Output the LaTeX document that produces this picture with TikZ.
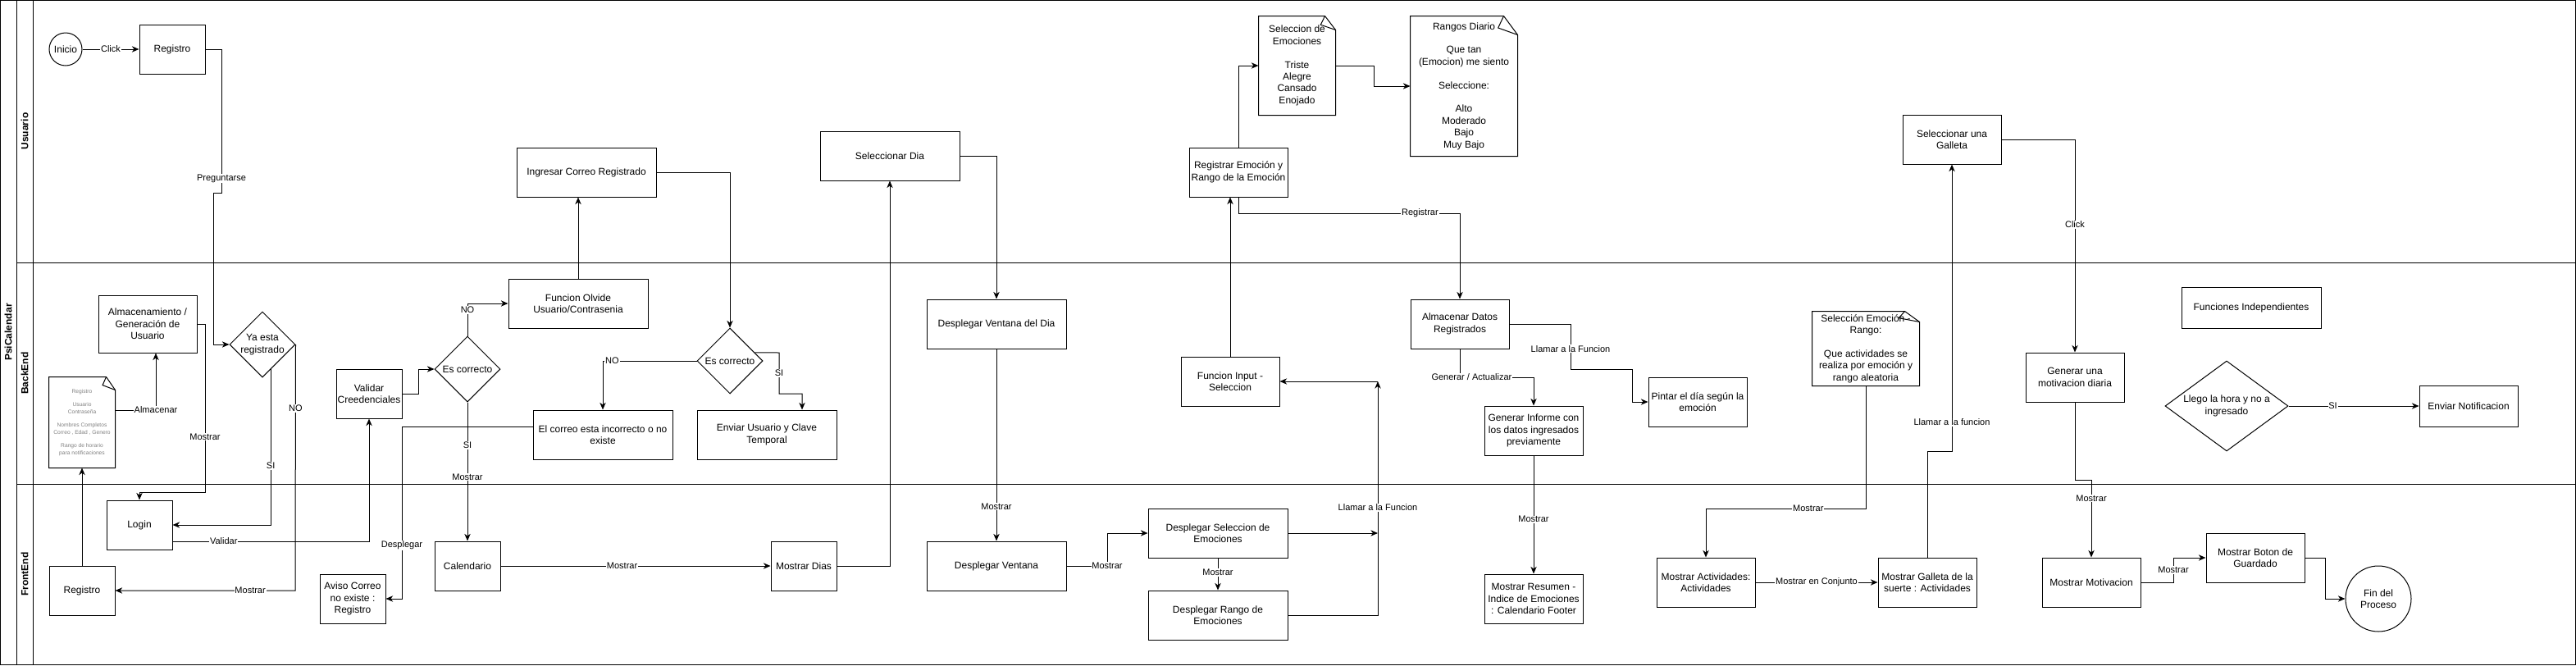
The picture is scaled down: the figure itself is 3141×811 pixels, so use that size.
\documentclass[tikz,border=0pt]{standalone}
\usepackage{fontspec}
\setmainfont{Liberation Sans}
\usetikzlibrary{arrows.meta,calc,shapes.geometric}
\newcommand{\notefold}[3]{%
  \draw (#1.north west) -- ($(#1.north east)+(-#2,0)$) -- ($(#1.north east)+(0,#3)$) -- (#1.south east) -- (#1.south west) -- cycle;
  \draw ($(#1.north east)+(-#2,0)$) -- ($(#1.north east)+(-1.4*#2,0.63*#3)$) -- ($(#1.north east)+(0,#3)$);}

\begin{document}
\begin{tikzpicture}[x=0.75pt,y=-0.75pt,line width=0.75pt,
  >={Stealth[length=6.5pt,width=5.5pt,inset=2pt]},
  box/.style={draw,align=center,font=\fontsize{9}{10.9}\selectfont,inner sep=1pt,minimum width=60pt,minimum height=45pt},
  wide/.style={box,minimum width=127.5pt},
  mid/.style={box,minimum width=90pt},
  dec/.style={diamond,draw,align=center,font=\fontsize{9}{10.9}\selectfont,inner sep=0pt,minimum width=60pt,minimum height=60pt},
  term/.style={circle,draw,align=center,font=\fontsize{9}{10.9}\selectfont,inner sep=0pt},
  doc/.style={align=center,font=\fontsize{9}{10.8}\selectfont,inner sep=1pt},
  lbl/.style={fill=white,font=\fontsize{8.25}{9.5}\selectfont,inner sep=0.6pt},
  lanename/.style={rotate=90,font=\bfseries\fontsize{9}{10.9}\selectfont}]
  \useasboundingbox (0,0) rectangle (3141,811);
  \draw (0.5,0.5) rectangle (3140,810);
  \draw (20,0.5) -- (20,810) (40,0.5) -- (40,810);
  \draw (20,320) -- (3140,320) (20,590) -- (3140,590);
  \node[lanename] (pool) at (10,405) {PsiCalendar};
  \node[lanename] (usr) at (30,160) {Usuario};
  \node[lanename] (back) at (30,455) {BackEnd};
  \node[lanename] (front) at (30,700) {FrontEnd};

  \node[term,minimum size=30pt] (inicio) at (80,60) {Inicio};
  \node[box] (regU) at (210,60) {Registro};
  \node[wide] (ingresar) at (715,210) {Ingresar Correo Registrado};
  \node[wide] (selDia) at (1085,190) {Seleccionar Dia};
  \node[mid] (regEmo) at (1510,210) {Registrar Emoción y\\Rango de la Emoción};
  \node[doc,minimum width=69.75pt,minimum height=90pt] (selEmo) at (1581.5,80) {Seleccion de\\Emociones\\~\\Triste\\Alegre\\Cansado\\Enojado};
  \node[doc,minimum width=97.5pt,minimum height=127.5pt] (rangos) at (1785,105) {Rangos Diario\\~\\Que tan\\(Emocion) me siento\\~\\Seleccione:\\~\\Alto\\Moderado\\Bajo\\Muy Bajo};
  \node[mid] (galleta) at (2380,170) {Seleccionar una\\Galleta};

  \node[mid,minimum height=52.5pt] (almUsr) at (180,395) {Almacenamiento /\\Generación de\\Usuario};
  \node[doc,minimum width=60pt,minimum height=82.5pt,font=\fontsize{5}{6.25}\selectfont,text=black!50] (docReg) at (100,515) {Registro\\~\\Usuario\\Contraseña\\~\\Nombres Completos\\Correo , Edad , Genero\\~\\Rango de horario\\para notificaciones};
  \node[dec] (yaReg) at (320,420) {Ya esta\\registrado};
  \node[box] (validar) at (450,480) {Validar\\Creedenciales};
  \node[dec] (esC1) at (570,450) {Es correcto};
  \node[wide] (olvide) at (705,370) {Funcion Olvide\\Usuario/Contrasenia};
  \node[dec] (esC2) at (890,440) {Es correcto};
  \node[wide] (correoMal) at (735,530) {El correo esta incorrecto o no\\existe};
  \node[wide] (enviarClave) at (935,530) {Enviar Usuario y Clave\\Temporal};
  \node[wide] (ventDia) at (1215,395) {Desplegar Ventana del Dia};
  \node[mid] (input) at (1500,465) {Funcion Input -\\Seleccion};
  \node[mid] (almDatos) at (1780,395) {Almacenar Datos\\Registrados};
  \node[mid] (pintar) at (2070,490) {Pintar el día según la\\emoción};
  \node[mid] (informe) at (1870,525) {Generar Informe con\\los datos ingresados\\previamente};
  \node[doc,minimum width=97.5pt,minimum height=67.5pt] (docAct) at (2275,425) {Selección Emoción -\\Rango:\\~\\Que actividades se\\realiza por emoción y\\rango aleatoria};
  \node[mid] (motiv) at (2530,460) {Generar una\\motivacion diaria};
  \node[wide,minimum height=37.5pt] (funcInd) at (2745,375) {Funciones Independientes};
  \node[dec,minimum width=112.5pt,minimum height=82.5pt,shape aspect=1.36] (llego) at (2715,495) {Llego la hora y no a\\ingresado};
  \node[mid,minimum height=37.5pt] (notif) at (3010,495) {Enviar Notificacion};

  \node[box] (login) at (170,640) {Login};
  \node[box] (regF) at (100,720) {Registro};
  \node[box] (aviso) at (430,730) {Aviso Correo\\no existe :\\Registro};
  \node[box] (calend) at (570,690) {Calendario};
  \node[box] (dias) at (980,690) {Mostrar Dias};
  \node[wide] (ventana) at (1215,690) {Desplegar Ventana};
  \node[wide] (selEmoF) at (1485,650) {Desplegar Seleccion de\\Emociones};
  \node[wide] (rangoF) at (1485,750) {Desplegar Rango de\\Emociones};
  \node[mid] (resumen) at (1870,730) {Mostrar Resumen -\\Indice de Emociones\\: Calendario Footer};
  \node[mid] (activ) at (2080,710) {Mostrar Actividades:\\Actividades};
  \node[mid] (galletaF) at (2350,710) {Mostrar Galleta de la\\suerte : Actividades};
  \node[mid] (motivF) at (2550,710) {Mostrar Motivacion};
  \node[mid] (boton) at (2750,680) {Mostrar Boton de\\Guardado};
  \node[term,minimum size=60pt] (fin) at (2900,730) {Fin del\\Proceso};
  \coordinate (llamar) at (1680,465);

  \notefold{docReg}{11}{16}
  \notefold{selEmo}{13}{17}
  \notefold{rangos}{17}{23}
  \notefold{docAct}{18}{13}

  \draw[->] (inicio) -- node[lbl]{Click} (regU);
  \draw[->] (regU.east) -- (270,60) -- node[lbl,pos=0.9]{Preguntarse} (270,235) -- (260,235) |- (yaReg.west);
  \draw[->] ($(docReg.east)+(0,-15)$) -| node[lbl,pos=0.5]{Almacenar} ($(almUsr.south)+(10,0)$);
  \draw[->] (almUsr.east) -- (250,395) -- node[lbl,pos=0.67]{Mostrar} (250,600) -| (login.north);
  \draw[->] ($(yaReg.south)!0.25!(yaReg.east)$) |- node[lbl,pos=0.31]{SI} (login.east);
  \draw[->] (yaReg.east) -- node[lbl,pos=0.26]{NO} (360,720) -- node[lbl,pos=0.25]{Mostrar} (regF.east);
  \draw[->] (regF) -- (docReg);
  \draw[->] ($(login.east)+(0,20)$) -| node[lbl,pos=0.13]{Validar} (validar.south);
  \draw[->] (validar.east) -- (510,480) |- (esC1.west);
  \draw[->] (esC1.north) |- node[lbl,pos=0.4]{NO} (olvide.west);
  \draw[->] (esC1.south) -- node[lbl,pos=0.31]{SI} node[lbl,pos=0.54]{Mostrar} (calend.north);
  \draw[->] (olvide.north) -- (olvide.north |- ingresar.south);
  \draw[->] (ingresar.east) -| (esC2.north);
  \draw[->] (esC2.west) -| node[lbl,pos=0.45]{NO} (correoMal.north);
  \draw[->] ($(esC2.north)!0.75!(esC2.east)$) -- (950,430) -- node[lbl]{SI} (950,480) -| ($(enviarClave.north)+(43,0)$);
  \draw[->] ($(correoMal.west)+(0,-10)$) -- (490,520) -- node[lbl,pos=0.69]{Desplegar} (490,730) -- (aviso.east);
  \draw[->] (calend) -- node[lbl,pos=0.45]{Mostrar} (dias);
  \draw[->] (dias.east) -| (selDia.south);
  \draw[->] (selDia.east) -| (ventDia.north);
  \draw[->] (ventDia.south) -- node[lbl,pos=0.82]{Mostrar} (ventana.north);
  \draw[->] (ventana.east) -| node[lbl,pos=0.5]{Mostrar} (1350,650) -- (selEmoF.west);
  \draw[->] (selEmoF.south) -- node[lbl,pos=0.45]{Mostrar} (rangoF.north);
  \draw[->] (selEmoF.east) -- (selEmoF.east -| llamar);
  \draw[->] (rangoF.east) -| node[lbl,pos=0.73]{Llamar a la Funcion} (llamar);
  \draw[->] (llamar) -- (input.east);
  \draw[->] (input.north) -- (input.north |- regEmo.south);
  \draw[->] (regEmo.north) |- (selEmo.west);
  \draw[->] (selEmo.east) -- (1675,80) |- (rangos.west);
  \draw[->] (regEmo.south) -- (1510,260) -| node[lbl,pos=0.41]{Registrar} (almDatos.north);
  \draw[->] (almDatos.east) -- (1915,395) -- node[lbl,pos=0.55]{Llamar a la Funcion} (1915,450) -- (1990,450) |- (pintar.west);
  \draw[->] (almDatos.south) |- node[lbl,pos=0.58]{Generar / Actualizar} (1870,460) -- (informe.north);
  \draw[->] (informe.south) -- node[lbl,pos=0.54]{Mostrar} (resumen.north);
  \draw[->] (docAct.south) -- (2275,620) -| node[lbl,pos=0.18]{Mostrar} (activ.north);
  \draw[->] (activ.east) -- node[lbl]{Mostrar en Conjunto} (galletaF.west);
  \draw[->] (galletaF.north) -- (2350,550) -| node[lbl,pos=0.55]{Llamar a la funcion} (galleta.south);
  \draw[->] (galleta.east) -| node[lbl,pos=0.7]{Click} (motiv.north);
  \draw[->] (motiv.south) -- (2530,585) -| node[lbl,pos=0.62]{Mostrar} (motivF.north);
  \draw[->] (motivF.east) -| node[lbl,pos=0.75]{Mostrar} (2650,680) -- (boton.west);
  \draw[->] (boton.east) -- (2835,680) |- (fin.west);
  \draw[->] (llego) -- node[lbl,pos=0.34]{SI} (notif);
\end{tikzpicture}
\end{document}
